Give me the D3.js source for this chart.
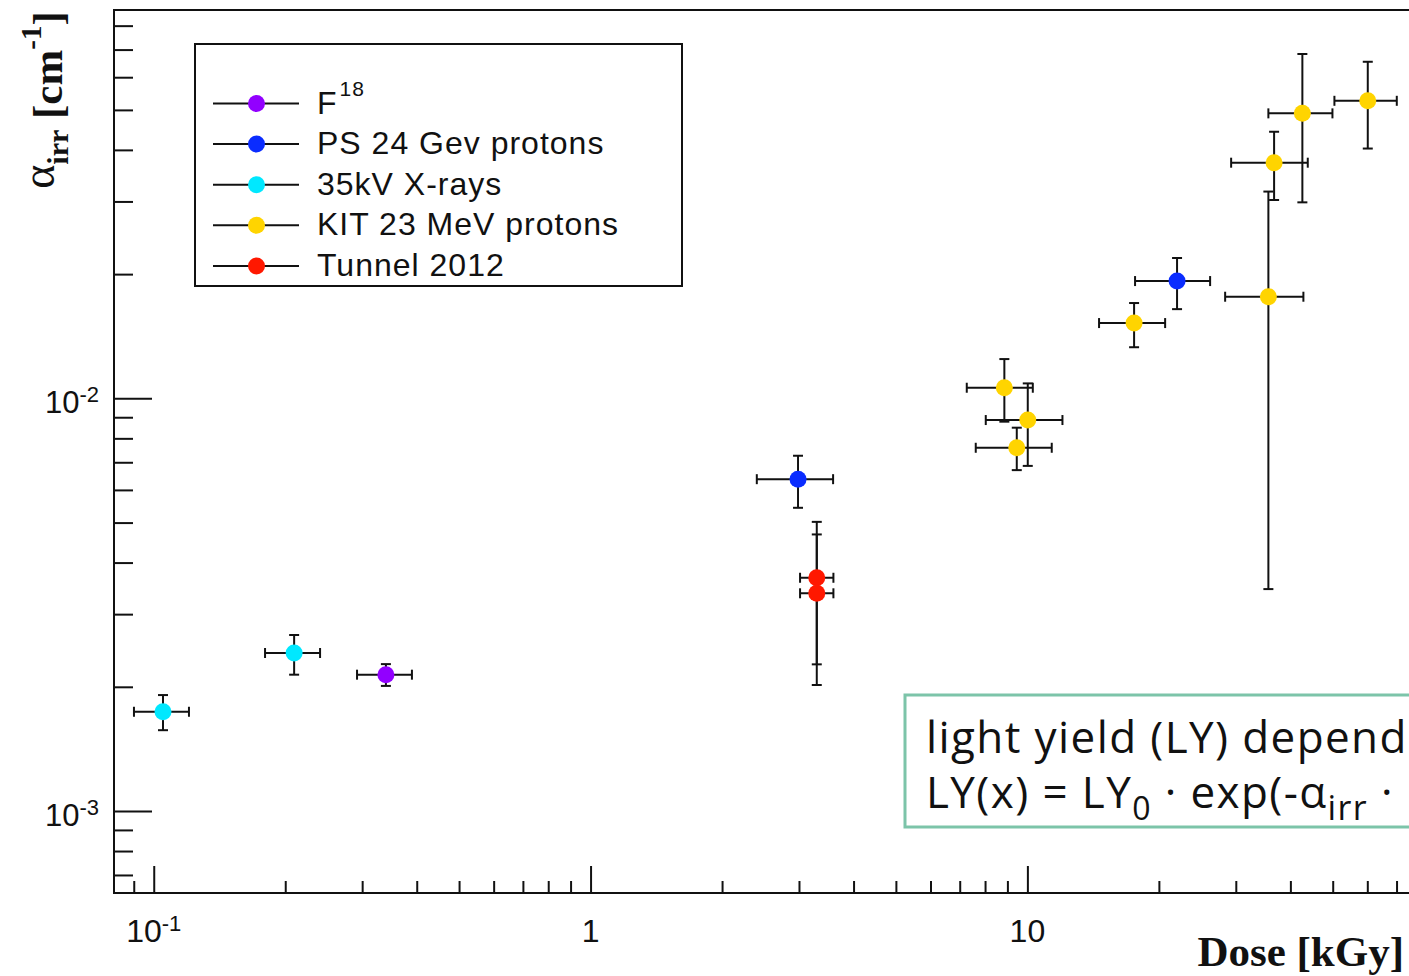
<!DOCTYPE html>
<html>
<head>
<meta charset="utf-8">
<script src="https://cdn.jsdelivr.net/npm/d3@7"></script>
<style>
  body { margin: 0; background: #fff; overflow: hidden; }
  svg { display: block; }
</style>
</head>
<body>
<svg width="1409" height="976"></svg>
<script>
// series: x = dose [kGy], y = alpha_irr [1/cm], with asymmetric bounds
var seriesNames = ["F", "PS 24 Gev protons", "35kV X-rays", "KIT 23 MeV protons", "Tunnel 2012"];
var seriesColors = ["#9200ff", "#0a2cff", "#00e8ff", "#ffd400", "#ff1800"];

var f18Points = [
  { x: 0.340, y: 2.14e-3, x0: 0.292, x1: 0.390, y0: 2.01e-3, y1: 2.27e-3 }
];
var psPoints = [
  { x: 2.985, y: 6.37e-3, x0: 2.402, x1: 3.591, y0: 5.43e-3, y1: 7.26e-3 },
  { x: 22.01, y: 1.924e-2, x0: 17.64, x1: 26.20, y0: 1.645e-2, y1: 2.188e-2 }
];
var xrayPoints = [
  { x: 0.105, y: 1.74e-3, x0: 0.0901, x1: 0.1204, y0: 1.57e-3, y1: 1.91e-3 },
  { x: 0.2096, y: 2.415e-3, x0: 0.1798, x1: 0.2403, y0: 2.14e-3, y1: 2.67e-3 }
];
var kitPoints = [
  { x: 8.857, y: 1.061e-2, x0: 7.265, x1: 10.29, y0: 8.78e-3, y1: 1.245e-2 },
  { x: 10.02, y: 8.86e-3, x0: 8.030, x1: 12.03, y0: 6.86e-3, y1: 1.087e-2 },
  { x: 9.456, y: 7.59e-3, x0: 7.617, x1: 11.37, y0: 6.70e-3, y1: 8.49e-3 },
  { x: 17.55, y: 1.522e-2, x0: 14.59, x1: 20.67, y0: 1.33e-2, y1: 1.702e-2 },
  { x: 35.62, y: 1.763e-2, x0: 28.36, x1: 42.84, y0: 3.45e-3, y1: 3.17e-2 },
  { x: 36.71, y: 3.724e-2, x0: 29.27, x1: 43.84, y0: 3.024e-2, y1: 4.426e-2 },
  { x: 42.61, y: 4.904e-2, x0: 35.62, x1: 49.93, y0: 2.985e-2, y1: 6.83e-2 },
  { x: 60.15, y: 5.26e-2, x0: 50.45, x1: 70.09, y0: 4.03e-2, y1: 6.54e-2 }
];
var tunnelPoints = [
  { x: 3.295, y: 3.675e-3, x0: 3.017, x1: 3.597, y0: 2.267e-3, y1: 5.02e-3 },
  { x: 3.295, y: 3.37e-3, x0: 3.017, x1: 3.597, y0: 2.02e-3, y1: 4.68e-3 }
];
var allSeries = [f18Points, psPoints, xrayPoints, kitPoints, tunnelPoints];

var xMajor = [0.1, 1, 10];
var xMajorExp = ["-1", "", ""];
var xMajorBase = ["10", "1", "10"];
var xMinor = [0.09, 0.2, 0.3, 0.4, 0.5, 0.6, 0.7, 0.8, 0.9, 2, 3, 4, 5, 6, 7, 8, 9, 20, 30, 40, 50, 60, 70, 80];
var yMajor = [1e-3, 1e-2];
var yMajorExp = ["-3", "-2"];
var yMinor = [7e-4, 8e-4, 9e-4, 2e-3, 3e-3, 4e-3, 5e-3, 6e-3, 7e-3, 8e-3, 9e-3,
              2e-2, 3e-2, 4e-2, 5e-2, 6e-2, 7e-2, 8e-2];

var margin = { top: 10, left: 114, right: -21, bottom: 83 };
var W = 1409, H = 976;

var svg = d3.select("svg");

var x = d3.scaleLog().domain([0.0811, 83.5]).range([margin.left, W - margin.right]);
var y = d3.scaleLog().domain([6.33e-4, 0.0873]).range([H - margin.bottom, margin.top]);

var sans = "'Liberation Sans', Arial, sans-serif";
var serif = "'Liberation Serif', 'Times New Roman', serif";

// frame
svg.append("rect")
    .attr("x", x.range()[0]).attr("y", y.range()[1])
    .attr("width", x.range()[1] - x.range()[0])
    .attr("height", y.range()[0] - y.range()[1])
    .attr("fill", "none").attr("stroke", "#111").attr("stroke-width", 2);

// ticks (inside the frame)
function tickAxis(axis, tr) {
    var g = svg.append("g").attr("transform", tr).call(axis);
    g.select(".domain").remove();
    g.selectAll(".tick line").attr("stroke", "#111").attr("stroke-width", 2);
    return g;
}
tickAxis(d3.axisBottom(x).tickValues(xMinor).tickSize(-12).tickFormat(""),
    "translate(0," + y.range()[0] + ")");
tickAxis(d3.axisBottom(x).tickValues(xMajor).tickSize(-27).tickFormat(""),
    "translate(0," + y.range()[0] + ")");
tickAxis(d3.axisLeft(y).tickValues(yMinor).tickSize(-19).tickFormat(""),
    "translate(" + x.range()[0] + ",0)");
tickAxis(d3.axisLeft(y).tickValues(yMajor).tickSize(-38).tickFormat(""),
    "translate(" + x.range()[0] + ",0)");

// tick labels
xMajor.forEach(function(v, i) {
    var t = svg.append("text")
        .attr("x", x(v)).attr("y", y.range()[0] + 49)
        .attr("text-anchor", "middle")
        .attr("font-family", sans).attr("font-size", 32).attr("fill", "#111");
    t.append("tspan").text(xMajorBase[i]);
    if (xMajorExp[i]) {
        t.append("tspan").attr("font-size", 22).attr("dy", -11).text(xMajorExp[i]);
    }
});
yMajor.forEach(function(v, i) {
    var t = svg.append("text")
        .attr("x", 99).attr("y", y(v) + 15)
        .attr("text-anchor", "end")
        .attr("font-family", sans).attr("font-size", 31).attr("fill", "#111");
    t.append("tspan").text("10");
    t.append("tspan").attr("font-size", 22).attr("dy", -11).text(yMajorExp[i]);
});

// axis titles
svg.append("text")
    .attr("x", 1404).attr("y", 966)
    .attr("text-anchor", "end")
    .attr("font-family", serif).attr("font-weight", "bold")
    .attr("font-size", 43).attr("fill", "#111")
    .text("Dose [kGy]");

var yt = svg.append("text")
    .attr("transform", "translate(62,100) rotate(-90)")
    .attr("text-anchor", "middle")
    .attr("font-family", serif).attr("font-weight", "bold")
    .attr("font-size", 43).attr("fill", "#111");
yt.append("tspan").attr("font-weight", "normal").attr("font-size", 46).attr("dy", -8).text("\u03b1");
yt.append("tspan").attr("font-size", 30).attr("dy", 14).text("irr");
yt.append("tspan").attr("dy", -6).text(" [cm");
yt.append("tspan").attr("font-size", 29).attr("dy", -21).text("-1");
yt.append("tspan").attr("dy", 21).text("]");

// error bars + markers
var cap = 5;
var plot = svg.append("g");
allSeries.forEach(function(pts, si) {
    var g = plot.append("g");
    pts.forEach(function(d) {
        var cx = x(d.x), cy = y(d.y);
        var segs = [
            [x(d.x0), cy, x(d.x1), cy],
            [cx, y(d.y0), cx, y(d.y1)],
            [x(d.x0), cy - cap, x(d.x0), cy + cap],
            [x(d.x1), cy - cap, x(d.x1), cy + cap],
            [cx - cap, y(d.y0), cx + cap, y(d.y0)],
            [cx - cap, y(d.y1), cx + cap, y(d.y1)]
        ];
        segs.forEach(function(s) {
            g.append("line")
                .attr("x1", s[0]).attr("y1", s[1]).attr("x2", s[2]).attr("y2", s[3])
                .attr("stroke", "#111").attr("stroke-width", 2);
        });
    });
});
allSeries.forEach(function(pts, si) {
    plot.append("g").selectAll("circle")
        .data(pts)
        .enter().append("circle")
        .attr("cx", function(d) { return x(d.x); })
        .attr("cy", function(d) { return y(d.y); })
        .attr("r", 8.5)
        .attr("fill", seriesColors[si]);
});

// legend
var leg = svg.append("g");
leg.append("rect")
    .attr("x", 195).attr("y", 44).attr("width", 487).attr("height", 242)
    .attr("fill", "#fff").attr("stroke", "#111").attr("stroke-width", 2);
seriesNames.forEach(function(name, i) {
    var ry = 103.5 + i * 40.6;
    leg.append("line")
        .attr("x1", 213).attr("x2", 299).attr("y1", ry).attr("y2", ry)
        .attr("stroke", "#111").attr("stroke-width", 2);
    leg.append("circle")
        .attr("cx", 256.5).attr("cy", ry).attr("r", 8.5)
        .attr("fill", seriesColors[i]);
    var t = leg.append("text")
        .attr("x", 317).attr("y", ry + 10)
        .attr("font-family", sans).attr("font-size", 32)
        .attr("letter-spacing", "1px").attr("fill", "#111")
        .text(name);
    if (i === 0) {
        t.append("tspan").attr("font-size", 21).attr("dy", -18).attr("dx", 2).text("18");
    }
});

// annotation box (runs past the right edge; only the visible part of the text is kept)
var ann = svg.append("g");
ann.append("rect")
    .attr("x", 905).attr("y", 695).attr("width", 560).attr("height", 132)
    .attr("fill", "#fff").attr("stroke", "#7cc4a9").attr("stroke-width", 3);
var annFont = "'Open Sans', 'DejaVu Sans', sans-serif";
ann.append("text")
    .attr("x", 926).attr("y", 753)
    .attr("font-family", annFont).attr("font-size", 44)
    .attr("letter-spacing", "1.4px").attr("fill", "#111")
    .text("light yield (LY) depend");
var l2 = ann.append("text")
    .attr("x", 926).attr("y", 808)
    .attr("font-family", annFont).attr("font-size", 44)
    .attr("letter-spacing", "1.4px").attr("fill", "#111");
l2.append("tspan").text("LY(x) = LY");
l2.append("tspan").attr("font-size", 32).attr("dy", 12).text("0");
l2.append("tspan").attr("dy", -12).text(" \u00b7 exp(-\u03b1");
l2.append("tspan").attr("font-size", 34).attr("dy", 12).text("irr");
l2.append("tspan").attr("dy", -12).text(" \u00b7");
</script>
</body>
</html>
